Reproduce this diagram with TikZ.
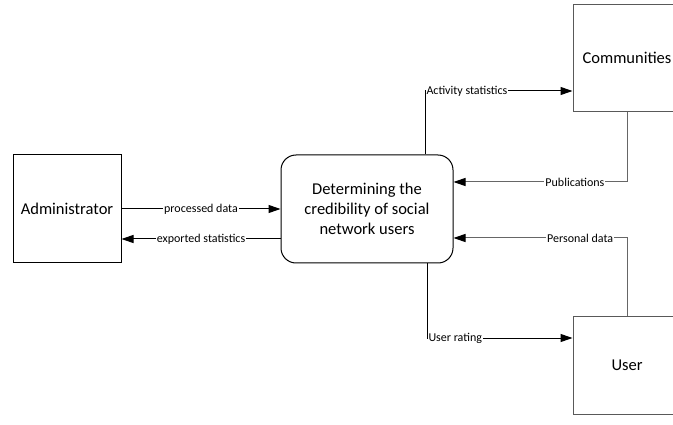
\documentclass[tikz,border=0pt]{standalone}
\usepackage{fontspec}
\setmainfont{Carlito}
\usepackage{tikz}
\usetikzlibrary{positioning,arrows.meta}
\tikzstyle{entity}=[rectangle, draw=black!65, line width=1pt, text centered, text=black, minimum width=108pt, font=\fontsize{16.5}{20}\selectfont]
\tikzstyle{procbox}=[rectangle, rounded corners=15pt, draw=black, line width=1pt, align=center, text=black, minimum width=172pt, minimum height=108pt, font=\fontsize{16.5}{20}\selectfont]
\tikzstyle{flowlabel}=[fill=white, inner sep=1pt, text=black, font=\fontsize{12}{14}\selectfont]
\tikzstyle{flow}=[->, line width=1pt, draw=black]
\tikzstyle{grayflow}=[->, line width=1pt, draw=black!60]
\tikzset{>={Triangle[length=12pt,width=8pt,color=black]}}

\begin{document}
\begin{tikzpicture}[x=1pt, y=-1pt]
        \useasboundingbox (0,0) rectangle (673,425);

        \node (admin)[entity, draw=black, minimum height=108pt] at (67,209) {Administrator};
        \node (credibility)[procbox] at (367,209) {Determining the\\credibility of social\\network users};
        \node (communities)[entity, minimum height=107pt] at (627,58) {Communities};
        \node (user)[entity, minimum height=98pt] at (627,365) {User};

        \draw [flow] (admin.east) -- node[flowlabel] {processed data} (credibility.west);
        \draw [flow] ([yshift=-30pt]credibility.west) -- node[flowlabel] {exported statistics} ([yshift=-30pt]admin.east);

        \draw [flow] ([xshift=58pt]credibility.north) |- node[flowlabel, pos=0.5, anchor=west] {Activity statistics} ([yshift=-33pt]communities.west);
        \draw [grayflow] (communities.south) |- node[flowlabel, pos=0.65] {Publications} ([yshift=27pt]credibility.east);
        \draw [grayflow] (user.north) |- node[flowlabel, pos=0.635] {Personal data} ([yshift=-29pt]credibility.east);
        \draw [flow] ([xshift=60pt]credibility.south) |- node[flowlabel, pos=0.5, anchor=west] {User rating} ([yshift=27pt]user.west);

    \end{tikzpicture}
\end{document}
